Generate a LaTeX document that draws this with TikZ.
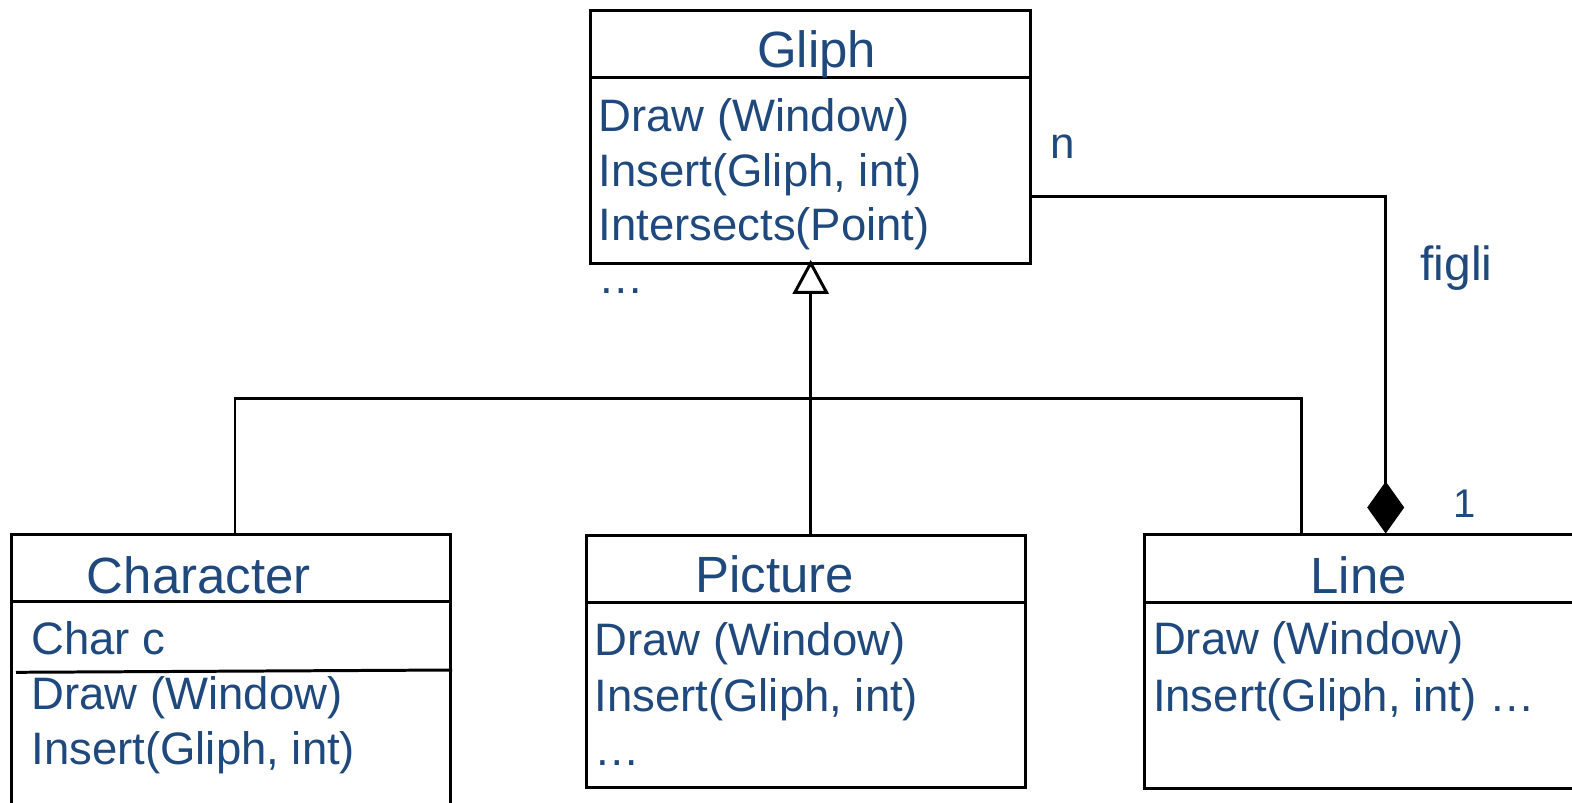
\documentclass[tikz,border=0pt]{standalone}
\usepackage{fontspec}
\setmainfont{Liberation Sans}
\usetikzlibrary{arrows.meta}
\definecolor{textblau}{RGB}{31,73,125}
\tikzset{
  klasse/.style={draw,rectangle,inner sep=0pt},
  txt/.style={text=textblau,inner sep=0pt,anchor=base west,font=\fontsize{25.9}{31}\selectfont},
  titel/.style={txt,font=\fontsize{29}{35}\selectfont},
}

\begin{document}
\begin{tikzpicture}[x=0.02cm,y=-0.02cm,line width=1.7pt]
  \useasboundingbox (0,0) rectangle (1572,802);
  \clip (0,0) rectangle (1572,802);
  % Klassen
  \node[klasse,minimum width=8.8cm,minimum height=5.05cm] (gliph) at (810.7,137.2) {};
  \node[klasse,minimum width=8.79cm,minimum height=5.92cm] (character) at (230.9,682) {};
  \node[klasse,minimum width=8.8cm,minimum height=5.05cm] (picture) at (806,661.4) {};
  \node[klasse,minimum width=9.12cm,minimum height=5.07cm] (line) at (1372,661.7) {};
  % Trennlinien
  \draw (gliph.west |- 0,77.7) -- (gliph.east |- 0,77.7);
  \draw (character.west |- 0,601.7) -- (character.east |- 0,601.7);
  \draw (16,672.3) -- (character.east |- 0,670);
  \draw (picture.west |- 0,602) -- (picture.east |- 0,602);
  \draw (line.west |- 0,602.3) -- (line.east |- 0,602.3);
  % Vererbung
  \coordinate (knoten) at (810.7,398.5);
  \coordinate (links) at (235,398.5);
  \coordinate (rechts) at (1301,398.5);
  \draw[-{Triangle[open,length=0.68cm,width=0.72cm]},shorten >=-0.1cm] (knoten) -- (gliph.south);
  \draw (picture.north -| knoten) -- (knoten);
  \draw (links |- character.north) -- (links) -- (rechts) -- (rechts |- line.north);
  % Komposition
  \coordinate (ecke) at (1385.7,196.7);
  \draw[-{Diamond[length=1.04cm,width=0.74cm]}] (gliph.east |- ecke) -- (ecke) -- (ecke |- line.north);
  % Texte
  \node[titel] (gliphT) at (755.6,67) {Gliph};
  \node[txt] (gliphM1) at (597,131) {Draw (Window)};
  \node[txt] (gliphM2) at (597,186) {Insert(Gliph, int)};
  \node[txt] (gliphM3) at (597,240) {Intersects(Point)};
  \node[txt] (gliphM4) at (597,293) {…};
  \node[titel] (characterT) at (85.5,593.3) {Character};
  \node[txt] (characterA) at (30,654.3) {Char c};
  \node[txt] (characterM1) at (30,709.3) {Draw (Window)};
  \node[txt] (characterM2) at (30,764) {Insert(Gliph, int)};
  \node[titel] (pictureT) at (694,592.7) {Picture};
  \node[txt] (pictureM1) at (593,655) {Draw (Window)};
  \node[txt] (pictureM2) at (593,711.7) {Insert(Gliph, int)};
  \node[txt] (pictureM3) at (593,765) {…};
  \node[titel] (lineT) at (1309,593.3) {Line};
  \node[txt] (lineM1) at (1151.5,654.3) {Draw (Window)};
  \node[txt] (lineM2) at (1151.5,711.7) {Insert(Gliph, int) …};
  % Beschriftungen
  \node[txt,font=\fontsize{25}{30}\selectfont] (n) at (1049,158.3) {n};
  \node[txt,font=\fontsize{27.3}{33}\selectfont] (figli) at (1419,280.7) {figli};
  \node[txt,font=\fontsize{22.8}{27}\selectfont] (eins) at (1452,517.7) {1};
\end{tikzpicture}
\end{document}
